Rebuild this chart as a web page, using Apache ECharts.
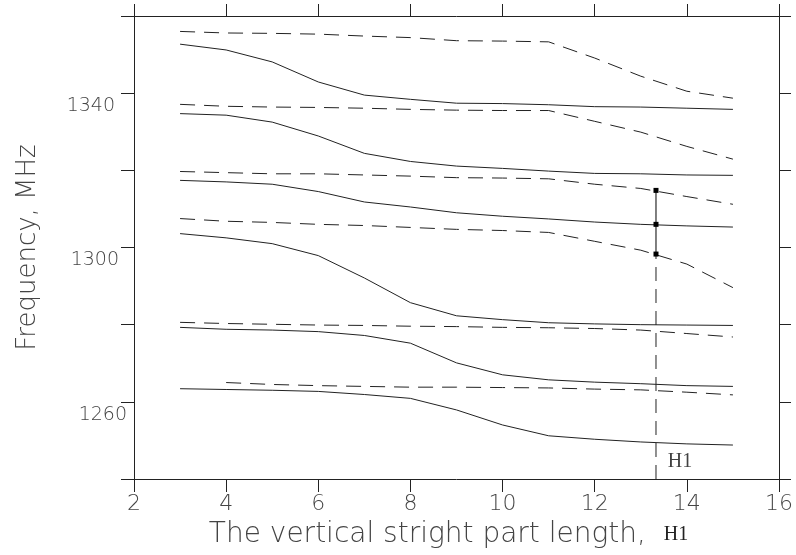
<!DOCTYPE html>
<html>
<head>
<meta charset="utf-8">
<script src="https://cdn.jsdelivr.net/npm/echarts@6/dist/echarts.min.js"></script>
<style>
  html, body { margin: 0; padding: 0; background: #fff; }
  #chart { width: 796px; height: 555px; }
</style>
</head>
<body>
<div id="chart"></div>
<script>
// ---- Data ----
const xValues = [3, 4, 5, 6, 7, 8, 9, 10, 11, 12, 13, 14, 15];

const solid1  = [1352.7, 1351.2, 1348.1, 1342.9, 1339.5, 1338.4, 1337.4, 1337.3, 1337.0, 1336.5, 1336.4, 1336.1, 1335.8];
const dashed1 = [1356.0, 1355.6, 1355.5, 1355.3, 1354.8, 1354.4, 1353.6, 1353.5, 1353.3, 1349.1, 1344.4, 1340.5, 1338.7];
const solid2  = [1334.7, 1334.3, 1332.5, 1328.9, 1324.4, 1322.3, 1321.1, 1320.5, 1319.8, 1319.2, 1319.1, 1318.8, 1318.7];
const dashed2 = [1337.1, 1336.6, 1336.4, 1336.3, 1336.1, 1335.8, 1335.6, 1335.5, 1335.5, 1332.7, 1329.9, 1326.2, 1322.9];
const solid3  = [1317.4, 1317.0, 1316.4, 1314.5, 1311.8, 1310.5, 1309.0, 1308.1, 1307.4, 1306.6, 1306.0, 1305.6, 1305.3];
const dashed3 = [1319.7, 1319.4, 1319.1, 1319.1, 1318.8, 1318.5, 1318.1, 1318.0, 1317.8, 1316.4, 1315.3, 1313.2, 1311.2];
const solid4  = [1303.6, 1302.5, 1301.0, 1297.9, 1292.1, 1285.7, 1282.3, 1281.3, 1280.5, 1280.2, 1280.0, 1279.9, 1279.8];
const dashed4 = [1307.5, 1306.8, 1306.5, 1306.0, 1305.7, 1305.2, 1304.7, 1304.4, 1303.9, 1301.6, 1299.3, 1295.7, 1289.6];
const solid5  = [1279.3, 1278.8, 1278.6, 1278.2, 1277.2, 1275.2, 1270.1, 1267.0, 1265.7, 1265.1, 1264.7, 1264.2, 1264.0];
const dashed5 = [1280.6, 1280.3, 1280.1, 1279.9, 1279.8, 1279.6, 1279.5, 1279.3, 1279.2, 1279.0, 1278.6, 1277.7, 1276.8];
const solid6  = [1263.4, 1263.2, 1263.0, 1262.7, 1261.9, 1260.9, 1257.9, 1254.0, 1251.2, 1250.3, 1249.6, 1249.1, 1248.8];
const dashed6 = [null,   1265.0, 1264.5, 1264.2, 1264.0, 1263.8, 1263.8, 1263.7, 1263.6, 1263.3, 1263.1, 1262.5, 1261.8];

// H1 marker line
const h1X = 13.33;
const h1Points = [1298.3, 1306.0, 1314.8];
const h1DropTo = 1240;
const h1LabelPos = [13.85, 1244.5];
const h1LabelText = 'H1';

// Axes
const xMin = 2, xMax = 16, xStep = 2;
const yMin = 1240, yMax = 1360, yStep = 20;
const yLabelValues = [1260, 1300, 1340];
const xAxisTitle = 'The vertical stright part length,';
const yAxisTitle = 'Frequency, MHz';

// ---- Chart ----
const SANS = '"DejaVu Sans", sans-serif';
const SERIF = '"Liberation Serif", "DejaVu Serif", serif';
const LINE = '#222';
const TEXT = '#444';

function pairs(vals) {
  return xValues.map((x, i) => [x, vals[i]]);
}
function curve(vals, dashed) {
  return {
    type: 'line',
    data: pairs(vals),
    symbol: 'none',
    connectNulls: false,
    silent: true,
    lineStyle: { color: LINE, width: 1, type: dashed ? [15, 9] : 'solid' },
    xAxisIndex: 0, yAxisIndex: 0,
    z: 3
  };
}

const series = [
  curve(solid1, false), curve(dashed1, true),
  curve(solid2, false), curve(dashed2, true),
  curve(solid3, false), curve(dashed3, true),
  curve(solid4, false), curve(dashed4, true),
  curve(solid5, false), curve(dashed5, true),
  curve(solid6, false), curve(dashed6, true),
  {
    type: 'line',
    data: [[h1X, h1DropTo], [h1X, h1Points[0]]],
    symbol: 'none',
    silent: true,
    lineStyle: { color: LINE, width: 1, type: [14, 8] },
    z: 4
  },
  {
    type: 'line',
    data: h1Points.map(v => [h1X, v]),
    symbol: 'rect',
    symbolSize: 5,
    showAllSymbol: true,
    silent: true,
    itemStyle: { color: '#000' },
    lineStyle: { color: '#000', width: 1 },
    z: 5
  },
  {
    type: 'scatter',
    data: [h1LabelPos],
    symbolSize: 0,
    silent: true,
    label: {
      show: true,
      position: 'inside',
      formatter: h1LabelText,
      fontFamily: SERIF,
      fontSize: 20,
      color: '#111'
    }
  }
];

const yRich = {
  r1260: { padding: [26, 0, 0, 0], fontSize: 19, color: TEXT, fontFamily: SANS, fontWeight: 200 },
  r1300: { padding: [26, 8, 0, 0], fontSize: 19, color: TEXT, fontFamily: SANS, fontWeight: 200 },
  r1340: { padding: [26, 12, 0, 0], fontSize: 19, color: TEXT, fontFamily: SANS, fontWeight: 200 }
};

const option = {
  animation: false,
  backgroundColor: '#fff',
  grid: { left: 134, right: 13, top: 16, bottom: 76, containLabel: false },
  xAxis: [
    {
      type: 'value', min: xMin, max: xMax, interval: xStep, position: 'bottom',
      axisLine: { onZero: false, lineStyle: { color: LINE, width: 1 } },
      axisTick: { length: 13, lineStyle: { color: LINE } },
      splitLine: { show: false },
      axisLabel: { fontSize: 22, color: TEXT, margin: 14, fontFamily: SANS, fontWeight: 200 },
      name: '{a|' + xAxisTitle + '  }{b|' + h1LabelText + '}',
      nameLocation: 'middle',
      nameGap: 42,
      nameTextStyle: {
        rich: {
          a: { fontSize: 28, color: TEXT, fontFamily: SANS, fontWeight: 200 },
          b: { fontSize: 20, color: '#222', fontFamily: SERIF }
        },
        padding: [0, 16, 0, 0]
      }
    },
    {
      type: 'value', min: xMin, max: xMax, interval: xStep, position: 'top',
      axisLine: { onZero: false, lineStyle: { color: LINE, width: 1 } },
      axisTick: { length: 12, lineStyle: { color: LINE } },
      splitLine: { show: false },
      axisLabel: { show: false }
    }
  ],
  yAxis: [
    {
      type: 'value', min: yMin, max: yMax, interval: yStep, position: 'left',
      axisLine: { onZero: false, lineStyle: { color: LINE, width: 1 } },
      axisTick: { length: 13, lineStyle: { color: LINE } },
      splitLine: { show: false },
      axisLabel: {
        margin: 7,
        formatter: v => yLabelValues.includes(v) ? '{r' + v + '|' + v + '}' : '',
        rich: yRich
      },
      name: yAxisTitle,
      nameLocation: 'middle',
      nameGap: 93,
      nameTextStyle: { fontSize: 26, color: TEXT, fontFamily: SANS, fontWeight: 200 }
    },
    {
      type: 'value', min: yMin, max: yMax, interval: yStep, position: 'right',
      axisLine: { onZero: false, lineStyle: { color: LINE, width: 1 } },
      axisTick: { length: 12, lineStyle: { color: LINE } },
      splitLine: { show: false },
      axisLabel: { show: false }
    }
  ],
  series: series
};

const chart = echarts.init(document.getElementById('chart'), null, { renderer: 'canvas' });
chart.setOption(option);
</script>
</body>
</html>
